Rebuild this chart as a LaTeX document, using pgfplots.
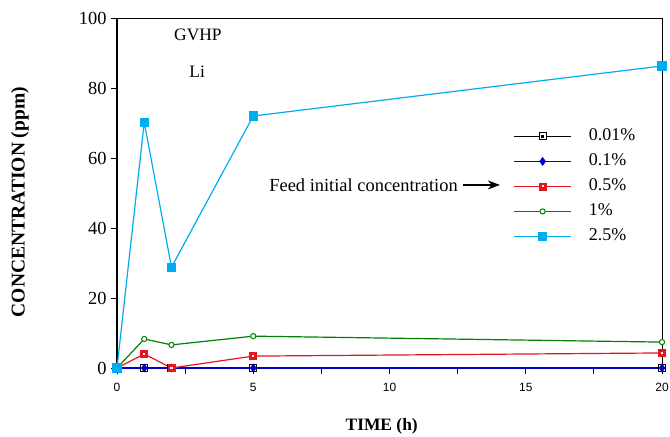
\documentclass[border=0pt]{standalone}
\usepackage{fontspec}
\setmainfont{Liberation Serif}
\newfontfamily\arialfont{Liberation Sans}
\usepackage{pgfplots}
\pgfplotsset{compat=1.18}
\usetikzlibrary{arrows.meta}
\definecolor{ccyan}{RGB}{0,174,239}
\definecolor{cblue}{RGB}{0,0,200}
\definecolor{cred}{RGB}{230,20,30}
\definecolor{cgreen}{RGB}{0,130,0}
\pgfdeclareplotmark{sqdotblack}{%
  \pgfsetfillcolor{white}%
  \pgfpathrectangle{\pgfpoint{-\pgfplotmarksize}{-\pgfplotmarksize}}{\pgfpoint{2\pgfplotmarksize}{2\pgfplotmarksize}}%
  \pgfusepathqfillstroke
  \pgfsetfillcolor{black}%
  \pgfpathrectangle{\pgfpoint{-0.35\pgfplotmarksize}{-0.35\pgfplotmarksize}}{\pgfpoint{0.7\pgfplotmarksize}{0.7\pgfplotmarksize}}%
  \pgfusepathqfill
}
\pgfdeclareplotmark{sqdotred}{%
  \pgfsetfillcolor{cred}%
  \pgfpathrectangle{\pgfpoint{-\pgfplotmarksize}{-\pgfplotmarksize}}{\pgfpoint{2\pgfplotmarksize}{2\pgfplotmarksize}}%
  \pgfusepathqfillstroke
  \pgfsetfillcolor{white}%
  \pgfpathrectangle{\pgfpoint{-0.3\pgfplotmarksize}{-0.3\pgfplotmarksize}}{\pgfpoint{0.6\pgfplotmarksize}{0.6\pgfplotmarksize}}%
  \pgfusepathqfill
}
\begin{document}
\begin{tikzpicture}
\path[use as bounding box] (-117bp,-69bp) rectangle (553bp,368bp);
\begin{axis}[
  at={(0,0)}, anchor=south west,
  scale only axis, width=545bp, height=350bp,
  xmin=0, xmax=20, ymin=0, ymax=100,
  clip=false,
  xtick={0,5,10,15,20}, minor xtick={2.5,7.5,12.5,17.5},
  ytick={0,20,40,60,80,100},
  tick align=outside, xtick pos=bottom, ytick pos=left,
  major tick length=6bp, minor tick length=6bp,
  every tick/.style={black, line width=0.8bp},
  axis line style={line width=0.8bp},
  /pgf/number format/assume math mode=true,
  yticklabel style={font=\fontsize{18.5}{18.5}\selectfont, xshift=-1bp},
  xticklabel style={font=\arialfont\fontsize{12}{12}\selectfont, yshift=-6bp},
  xlabel={\textbf{TIME (h)}},
  ylabel={\textbf{CONCENTRATION (ppm)}},
  xlabel style={at={(axis description cs:0.4857,-0.166)}, anchor=center, font=\fontsize{17.5}{17.5}\selectfont},
  ylabel style={at={(axis description cs:-0.178,0.474)}, anchor=center, font=\fontsize{19.6}{19.6}\selectfont},
  legend cell align=left,
  legend image code/.code={\draw[mark repeat=2,mark phase=2,#1] plot coordinates {(0bp,0bp)(28.5bp,0bp)(57bp,0bp)};},
  legend style={at={(rel axis cs:0.7266,0.685)}, anchor=north west, draw=none, fill=none, inner sep=0pt,
    font=\fontsize{18}{18}\selectfont,
    nodes={inner sep=0pt, text height=12bp, text depth=4bp},
    row sep=9bp,
    /tikz/every odd column/.append style={column sep=17bp}},
]
\draw[black, line width=2bp] (rel axis cs:0,1) -- (rel axis cs:0,0) -- (rel axis cs:1,0);
\addplot[black, line width=1.2bp, mark=sqdotblack, mark size=3.5bp, mark options={solid, line width=1bp}]
  coordinates {(0,0) (1,0) (2,0) (5,0) (20,0)};
\addlegendentry{0.01\%}
\addplot[cblue, line width=1.8bp, mark=diamond*, mark size=4bp, mark options={solid, line width=0.5bp, fill=cblue}]
  coordinates {(0,0) (1,0) (2,0) (5,0) (20,0)};
\addlegendentry{0.1\%}
\addplot[cred, line width=1.2bp, mark=sqdotred, mark size=3.5bp, mark options={solid, line width=0.8bp}]
  coordinates {(0,0) (1,4.0) (2,0) (5,3.4) (20,4.3)};
\addlegendentry{0.5\%}
\addplot[cgreen, line width=1.2bp, mark=*, mark size=2.6bp, mark options={solid, fill=white, line width=1bp}]
  coordinates {(0,0) (1,8.3) (2,6.6) (5,9.1) (20,7.4)};
\addlegendentry{1\%}
\addplot[ccyan, line width=1.2bp, mark=square*, mark size=4bp, mark options={solid, fill=ccyan}]
  coordinates {(0,0) (1,70.2) (2,28.8) (5,72.0) (20,86.3)};
\addlegendentry{2.5\%}
\node[font=\fontsize{17.5}{17.5}\selectfont] at (axis cs:2.97,95.3) {GVHP};
\node[font=\fontsize{17.5}{17.5}\selectfont] at (axis cs:2.94,84.6) {Li};
\node[font=\fontsize{18.5}{18.5}\selectfont, anchor=east, inner sep=0pt] at (axis cs:12.51,52.3) {Feed initial concentration};
\draw[black, line width=1.2bp, -{Stealth[length=12bp, width=9bp]}] (axis cs:12.7,52.3) -- (axis cs:14.05,52.3);
\end{axis}
\end{tikzpicture}
\end{document}
